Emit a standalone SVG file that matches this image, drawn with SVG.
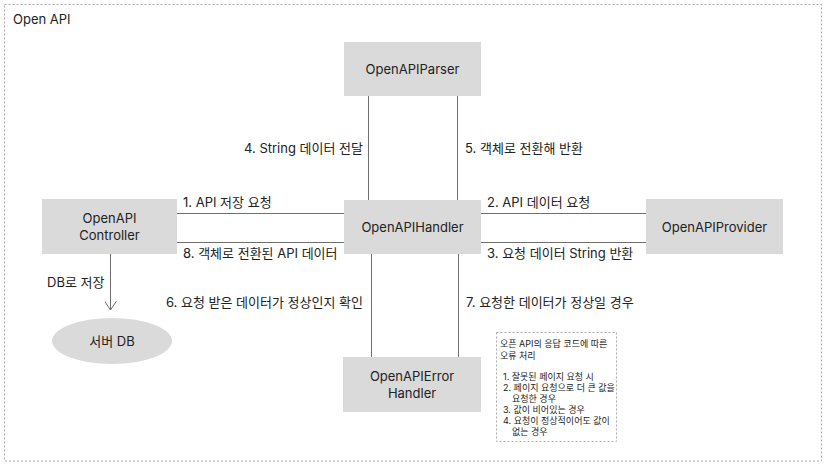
<svg xmlns="http://www.w3.org/2000/svg" width="826" height="466" viewBox="0 0 826 466">
<style>
text{font-family:Inter,"Noto Sans CJK KR",sans-serif;fill:#222;}
.lbl{font-size:13px;}
.nt{font-size:13px;text-anchor:middle;}
.sm{font-size:9px;}
.box{fill:#dadada;}
.ln{stroke:#6f6f6f;stroke-width:1;fill:none;}
.dot{fill:none;stroke:#aaa;stroke-width:1;stroke-dasharray:2 2;}
</style>
<defs>
<marker id="arr" viewBox="0 0 10 12" refX="9" refY="6" markerWidth="10" markerHeight="12" markerUnits="userSpaceOnUse" orient="auto">
<path d="M0,0 L9,6 L0,12" fill="none" stroke="#6f6f6f" stroke-width="1"/>
</marker>
</defs>
<rect class="dot" x="4.5" y="4.5" width="817" height="456.5"/>
<text class="lbl" x="13" y="24">Open API</text>

<g id="connectors">
<line class="ln" x1="177" y1="213.5" x2="344" y2="213.5"/>
<line class="ln" x1="177" y1="242.5" x2="344" y2="242.5"/>
<line class="ln" x1="481" y1="213.5" x2="646" y2="213.5"/>
<line class="ln" x1="481" y1="242.5" x2="646" y2="242.5"/>
<line class="ln" x1="368.5" y1="96" x2="368.5" y2="200"/>
<line class="ln" x1="457.5" y1="96" x2="457.5" y2="200"/>
<line class="ln" x1="371.5" y1="254" x2="371.5" y2="357"/>
<line class="ln" x1="458.5" y1="254" x2="458.5" y2="357"/>
<line class="ln" x1="110.5" y1="254" x2="110.5" y2="310" marker-end="url(#arr)"/>
<text class="lbl" x="183" y="207">1. API 저장 요청</text>
<text class="lbl" x="183" y="258">8. 객체로 전환된 API 데이터</text>
<text class="lbl" x="487" y="207">2. API 데이터 요청</text>
<text class="lbl" x="487" y="258">3. 요청 데이터 String 반환</text>
<text class="lbl" x="363" y="153" text-anchor="end">4. String 데이터 전달</text>
<text class="lbl" x="465" y="153">5. 객체로 전환해 반환</text>
<text class="lbl" x="363" y="307" text-anchor="end">6. 요청 받은 데이터가 정상인지 확인</text>
<text class="lbl" x="466" y="307">7. 요청한 데이터가 정상일 경우</text>
<text class="lbl" x="47" y="287">DB로 저장</text>
</g>

<g id="controller">
<rect class="box" x="42" y="199" width="135" height="55"/>
<text class="nt" x="109.5" y="223">OpenAPI</text>
<text class="nt" x="109.5" y="240">Controller</text>
</g>
<g id="handler">
<rect class="box" x="344" y="200" width="137" height="54"/>
<text class="nt" x="412.5" y="232">OpenAPIHandler</text>
</g>
<g id="provider">
<rect class="box" x="646" y="199" width="137" height="55"/>
<text class="nt" x="714.5" y="232">OpenAPIProvider</text>
</g>
<g id="parser">
<rect class="box" x="344" y="42" width="137" height="54"/>
<text class="nt" x="412.5" y="74">OpenAPIParser</text>
</g>
<g id="errorhandler">
<rect class="box" x="343" y="357" width="138" height="55"/>
<text class="nt" x="412" y="381">OpenAPIError</text>
<text class="nt" x="412" y="398">Handler</text>
</g>
<g id="db">
<ellipse cx="112" cy="341" rx="60" ry="23" fill="#dadada"/>
<text class="nt" x="112" y="346">서버 DB</text>
</g>
<g id="note">
<rect class="dot" x="496.5" y="332.5" width="120" height="109"/>
<text class="sm" x="500" y="347">오픈 API의 응답 코드에 따른</text>
<text class="sm" x="500" y="359">오류 처리</text>
<text class="sm" x="503" y="380">1. 잘못된 페이지 요청 시</text>
<text class="sm" x="503" y="391">2. 페이지 요청으로 더 큰 값을</text>
<text class="sm" x="512" y="402">요청한 경우</text>
<text class="sm" x="503" y="413">3. 값이 비어있는 경우</text>
<text class="sm" x="503" y="424">4. 요청이 정상적이어도 값이</text>
<text class="sm" x="512" y="435">없는 경우</text>
</g>
</svg>
